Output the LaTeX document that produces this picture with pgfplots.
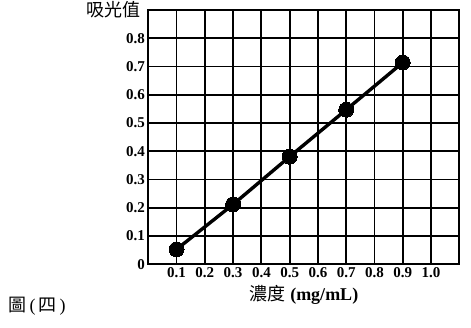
\documentclass[border=0pt]{standalone}
\usepackage{fontspec}
\setmainfont{Liberation Serif}
\newfontfamily\cjk{Noto Sans CJK TC}
\usepackage{pgfplots}
\pgfplotsset{compat=1.18}
\begin{document}
\begin{tikzpicture}[x=1pt,y=1pt]
\path[use as bounding box] (0,0) rectangle (471,328);
\begin{axis}[
  at={(148.3pt,63.7pt)}, anchor=south west,
  scale only axis, width=311pt, height=254.3pt,
  xmin=0, xmax=1.1, ymin=0, ymax=0.9,
  xtick={0.1,0.2,0.3,0.4,0.5,0.6,0.7,0.8,0.9,1.0},
  xticklabels={0.1,0.2,0.3,0.4,0.5,0.6,0.7,0.8,0.9,1.0},
  ytick={0,0.1,0.2,0.3,0.4,0.5,0.6,0.7,0.8},
  yticklabels={0,0.1,0.2,0.3,0.4,0.5,0.6,0.7,0.8},
  extra x ticks={0,1.1}, extra x tick labels={},
  extra y ticks={0.9}, extra y tick labels={},
  extra tick style={grid=major, major grid style={black, line width=1.8pt}},
  grid=major,
  major grid style={black, line width=1.8pt},
  axis line style={black, line width=1.8pt},
  major tick length=0pt,
  ticklabel style={font=\fontsize{15}{17}\selectfont\bfseries},
  /pgf/number format/assume math mode=true,
  clip=false,
]
\addplot[black, line width=3.4pt, mark=*, mark size=7.5pt, mark options={fill=black, line width=0pt}]
  coordinates {(0.1,0.053) (0.3,0.212) (0.5,0.381) (0.7,0.547) (0.9,0.714)};
\end{axis}
\node[anchor=east, font=\fontsize{18}{20}\selectfont\cjk] at (144,318) {吸光值};
\node[font=\fontsize{18}{20}\selectfont] at (304,33) {{\cjk 濃度} \textbf{(mg/mL)}};
\node[anchor=west, font=\fontsize{18}{20}\selectfont] at (5,22) {{\cjk 圖}\hspace{3pt}(\hspace{3pt}{\cjk 四}\hspace{3pt})};
\end{tikzpicture}
\end{document}
